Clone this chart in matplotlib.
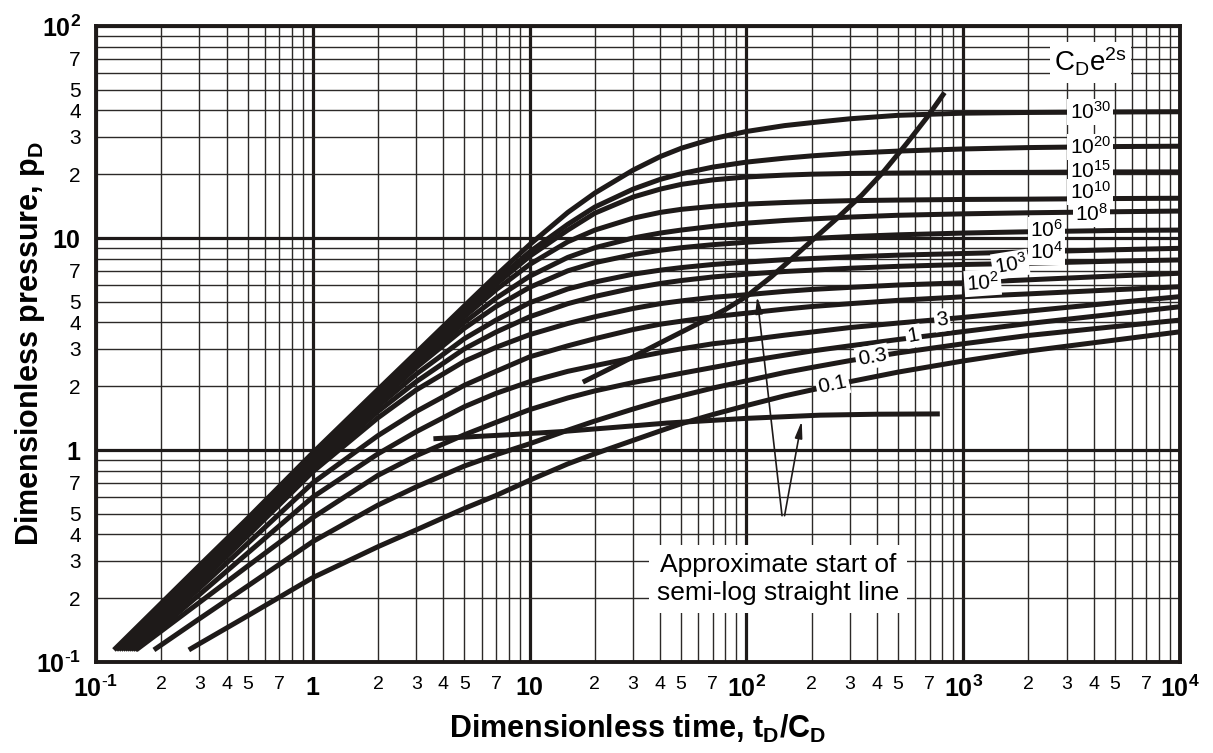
import matplotlib
matplotlib.use('Agg')
import matplotlib.pyplot as plt
from matplotlib import font_manager
import numpy as np


def has_font(name):
    try:
        font_manager.findfont(font_manager.FontProperties(family=name),
                              fallback_to_default=False)
        return True
    except ValueError:
        return False


SANS = 'Liberation Sans'
NARROW = 'Liberation Sans Narrow' if has_font('Liberation Sans Narrow') else SANS

plt.rcParams['font.family'] = [SANS, 'DejaVu Sans']
plt.rcParams['mathtext.fontset'] = 'custom'
plt.rcParams['mathtext.rm'] = SANS
plt.rcParams['mathtext.bf'] = SANS + ':bold'
plt.rcParams['mathtext.default'] = 'regular'

# ---- type curves: p_D against t_D/C_D for each C_D e^2s ----
t_grid = [0.3, 0.5, 1, 2, 3, 5, 7, 10, 15, 20, 30, 40, 50, 70, 100, 150,
          200, 300, 500, 1000, 2000, 5000, 10000]
p_start = 0.114
t_start = [0.121, 0.124, 0.127, 0.130, 0.133, 0.136, 0.139, 0.142,
           0.145, 0.148, 0.151, 0.153, 0.185, 0.268]

pd_1e30 = [0.285, 0.475, 0.97, 1.93, 2.88, 4.78, 6.65, 9.3, 13.2, 16.3, 20.9, 24.2, 26.5, 29.4, 31.8, 33.9, 35.0, 36.5, 37.9, 38.8, 39.1, 39.3, 39.4]
pd_1e20 = [0.280, 0.468, 0.95, 1.89, 2.8, 4.6, 6.3, 8.6, 11.6, 14.0, 17.0, 18.9, 20.1, 21.6, 22.8, 23.8, 24.4, 25.1, 25.7, 26.3, 26.7, 27.0, 27.1]
pd_1e15 = [0.273, 0.458, 0.93, 1.85, 2.74, 4.45, 6.05, 8.2, 10.9, 13.1, 15.6, 17.0, 17.9, 18.8, 19.4, 19.8, 20.0, 20.15, 20.25, 20.35, 20.4, 20.5, 20.5]
pd_1e10 = [0.268, 0.449, 0.91, 1.8, 2.65, 4.25, 5.7, 7.5, 9.6, 10.9, 12.4, 13.2, 13.65, 14.1, 14.45, 14.7, 14.85, 15.0, 15.1, 15.2, 15.25, 15.35, 15.4]
pd_1e8 = [0.262, 0.440, 0.89, 1.75, 2.56, 4.0, 5.2, 6.6, 8.1, 9.0, 10.0, 10.55, 10.9, 11.35, 11.75, 12.1, 12.3, 12.55, 12.8, 13.0, 13.15, 13.3, 13.4]
pd_1e6 = [0.256, 0.431, 0.87, 1.69, 2.45, 3.75, 4.75, 5.85, 7.0, 7.65, 8.35, 8.75, 9.0, 9.3, 9.55, 9.8, 9.95, 10.15, 10.35, 10.55, 10.7, 10.85, 10.9]
pd_1e4 = [0.250, 0.422, 0.85, 1.61, 2.28, 3.35, 4.1, 4.95, 5.75, 6.2, 6.75, 7.05, 7.25, 7.5, 7.7, 7.9, 8.0, 8.15, 8.3, 8.45, 8.6, 8.8, 8.94]
pd_1e3 = [0.243, 0.408, 0.82, 1.52, 2.1, 3.0, 3.6, 4.25, 4.9, 5.3, 5.8, 6.1, 6.3, 6.55, 6.75, 6.95, 7.05, 7.2, 7.35, 7.5, 7.6, 7.78, 7.88]
pd_1e2 = [0.236, 0.393, 0.79, 1.42, 1.92, 2.62, 3.05, 3.5, 3.95, 4.25, 4.65, 4.9, 5.05, 5.25, 5.4, 5.6, 5.72, 5.85, 6.0, 6.15, 6.35, 6.62, 6.82]
pd_10 = [0.223, 0.362, 0.70, 1.17, 1.52, 2.02, 2.35, 2.75, 3.1, 3.35, 3.7, 3.92, 4.05, 4.25, 4.42, 4.62, 4.75, 4.9, 5.08, 5.28, 5.45, 5.7, 5.89]
pd_3 = [0.208, 0.326, 0.60, 0.96, 1.22, 1.6, 1.85, 2.1, 2.35, 2.5, 2.72, 2.88, 3.0, 3.17, 3.3, 3.48, 3.6, 3.78, 3.97, 4.22, 4.52, 4.95, 5.29]
pd_1 = [0.191, 0.283, 0.48, 0.76, 0.94, 1.18, 1.35, 1.55, 1.76, 1.9, 2.08, 2.2, 2.3, 2.45, 2.62, 2.8, 2.93, 3.1, 3.32, 3.62, 3.95, 4.38, 4.74]
pd_03 = [0.160, 0.228, 0.37, 0.55, 0.67, 0.84, 0.95, 1.07, 1.24, 1.37, 1.56, 1.7, 1.8, 1.96, 2.12, 2.32, 2.45, 2.64, 2.87, 3.17, 3.47, 3.82, 4.1]
pd_01 = [0.122, 0.165, 0.25, 0.35, 0.42, 0.53, 0.61, 0.72, 0.86, 0.96, 1.11, 1.23, 1.33, 1.47, 1.62, 1.8, 1.92, 2.1, 2.33, 2.63, 2.93, 3.3, 3.61]

curves = [pd_1e30, pd_1e20, pd_1e15, pd_1e10, pd_1e8, pd_1e6, pd_1e4,
          pd_1e3, pd_1e2, pd_10, pd_3, pd_1, pd_03, pd_01]

# curve labels: text, position and tilt
curve_labels = ['10$^{30}$', '10$^{20}$', '10$^{15}$', '10$^{10}$', '10$^{8}$',
                '10$^{6}$', '10$^{4}$', '10$^{3}$', '10$^{2}$',
                '3', '1', '0.3', '0.1']
label_t = [3850, 3850, 3850, 3850, 3900, 2430, 2430, 1650, 1230,
           800, 590, 380, 250]
label_p = [39.3, 26.9, 20.7, 16.5, 13.0, 10.9, 8.6, 7.5, 6.14,
           4.1, 3.45, 2.75, 2.03]
label_rot = [0, 0, 0, 0, 0, 0, 0, 9, 4, 8, 10, 10, 12]

# approximate start of the semi-log straight line
start_upper_t = [17.6, 25, 30, 40, 60, 80, 100, 130, 160, 200, 260, 340,
                 430, 550, 680, 820]
start_upper_p = [2.09, 2.5, 2.75, 3.2, 3.95, 4.6, 5.3, 6.55, 7.9, 9.7, 12.3,
                 15.9, 20.6, 28.0, 37.0, 48.5]
start_lower_t = [3.6, 8, 13.8, 25, 43, 100, 219, 400, 780]
start_lower_p = [1.13, 1.18, 1.22, 1.28, 1.34, 1.41, 1.46, 1.475, 1.48]

# tick labels
x_major = [0.1, 1, 10, 100, 1000, 10000]
x_major_lab = ['10$^{\\text{-}1}$', '1', '10', '10$^{2}$', '10$^{3}$', '10$^{4}$']
y_major = [0.1, 1, 10, 100]
y_major_lab = ['10$^{\\text{-}1}$', '1', '10', '10$^{2}$']
minor_digits = [2, 3, 4, 5, 6, 7, 8, 9]
labelled_digits = [2, 3, 4, 5, 7]

ink = '#1e1a19'

fig = plt.figure(figsize=(12.13, 7.53), dpi=100)
ax = fig.add_axes([96 / 1213, 1 - 662 / 753, 1084 / 1213, 636 / 753])
ax.set_xscale('log')
ax.set_yscale('log')
ax.set_xlim(0.1, 1e4)
ax.set_ylim(0.1, 100)

for t0, vals in zip(t_start, curves):
    ax.plot([t0] + t_grid, [p_start] + vals, color=ink, lw=3.6,
            solid_capstyle='butt', solid_joinstyle='round', zorder=3)

ax.plot(start_upper_t, start_upper_p, color=ink, lw=3.6,
        solid_capstyle='butt', solid_joinstyle='round', zorder=3)
ax.plot(start_lower_t, start_lower_p, color=ink, lw=3.6,
        solid_capstyle='butt', solid_joinstyle='round', zorder=3)

for i, (lab, tl, pl, rot) in enumerate(zip(curve_labels, label_t, label_p,
                                          label_rot)):
    ax.text(tl, pl, lab, fontsize=15, family=NARROW, rotation=rot,
            ha='center', va='center', zorder=5 + i * 0.01,
            bbox=dict(boxstyle='square,pad=0.1', fc='white', ec='none'))

ax.text(0.917, 0.943, 'C$_{D}$e$^{2s}$', transform=ax.transAxes,
        fontsize=20, family=NARROW, ha='center', va='center', zorder=5,
        bbox=dict(boxstyle='square,pad=0.15', fc='white', ec='none'))

# note box with the two arrows
arrow_kw = dict(arrowstyle='-|>,head_length=1.0,head_width=0.22',
                color=ink, lw=1.2, shrinkA=0, shrinkB=0)
ax.annotate('', xy=(112, 5.3), xytext=(146, 0.49), arrowprops=arrow_kw, zorder=4)
ax.annotate('', xy=(180, 1.37), xytext=(150, 0.49), arrowprops=arrow_kw, zorder=4)
ax.text(0.629, 0.131, 'Approximate start of\nsemi-log straight line',
        transform=ax.transAxes, fontsize=19, family=NARROW,
        ha='center', va='center', linespacing=1.2, zorder=6,
        bbox=dict(boxstyle='square,pad=0.3', fc='white', ec='none'))

# axes, ticks and grid
x_minor = [d * 10.0 ** e for e in range(-1, 4) for d in minor_digits]
y_minor = [d * 10.0 ** e for e in range(-1, 2) for d in minor_digits]


def minor_text(v):
    d = int(round(v / 10 ** np.floor(np.log10(v) + 1e-9)))
    return str(d) if d in labelled_digits else ''


ax.set_xticks(x_major, labels=x_major_lab, fontsize=18, fontweight='bold')
ax.set_xticks(x_minor, labels=[minor_text(v) for v in x_minor], minor=True,
              fontsize=14, family=NARROW)
ax.set_yticks(y_major, labels=y_major_lab, fontsize=18, fontweight='bold')
ax.set_yticks(y_minor, labels=[minor_text(v) for v in y_minor], minor=True,
              fontsize=15)
ax.tick_params(which='both', length=0)
ax.tick_params(axis='x', which='both', pad=10)
ax.tick_params(axis='y', which='both', pad=11)

ax.grid(which='major', color=ink, lw=2.3)
ax.grid(which='minor', color='#2c2928', lw=1.0)
ax.set_axisbelow(True)
for sp in ax.spines.values():
    sp.set_linewidth(2.8)
    sp.set_color(ink)

ax.set_xlabel('Dimensionless time, t$_{D}$/C$_{D}$', fontsize=22,
              fontweight='bold', family=NARROW, va='center')
ax.xaxis.set_label_coords(0.5, -0.106)
ax.set_ylabel('Dimensionless pressure, p$_{D}$', fontsize=22,
              fontweight='bold', va='center')
ax.yaxis.set_label_coords(-0.061, 0.5)

fig.savefig('out.png', dpi=100)
